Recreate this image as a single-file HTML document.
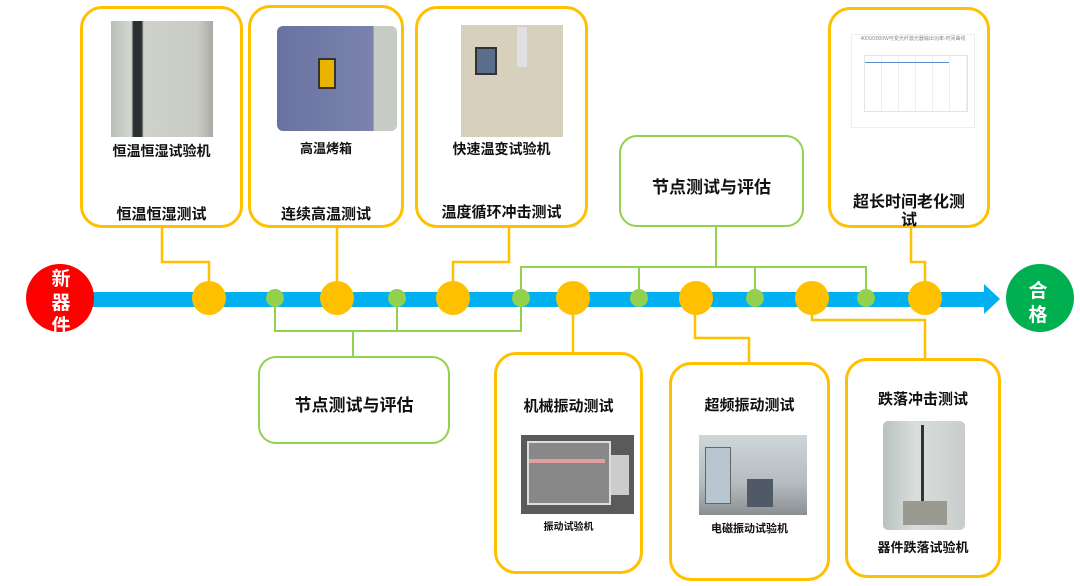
<!DOCTYPE html>
<html><head><meta charset="utf-8"><style>
body{margin:0;width:1080px;height:586px;background:#fff;position:relative;overflow:hidden;font-family:"Liberation Sans","Noto Sans CJK SC",sans-serif;}
.b{position:absolute;box-sizing:border-box;border:3px solid #ffc000;border-radius:22px;background:#fff;}
.g{position:absolute;box-sizing:border-box;border:2px solid #92d050;border-radius:18px;background:#fff;}
.t{position:absolute;left:0;right:0;text-align:center;font-weight:bold;color:#111;}
.im{position:absolute;}
svg{position:absolute;left:0;top:0;}
</style></head><body>
<svg width="1080" height="586">
<g fill="none" stroke="#ffc000" stroke-width="2.5">
<polyline points="162,227 162,262 209,262 209,298"/>
<polyline points="337,227 337,298"/>
<polyline points="509,227 509,262 453,262 453,298"/>
<polyline points="911,225 911,262 925,262 925,298"/>
<polyline points="573,298 573,352"/>
<polyline points="695,298 695,338 749,338 749,362"/>
<polyline points="812,298 812,320 925,320 925,358"/>
</g>
<g fill="none" stroke="#92d050" stroke-width="2">
<polyline points="716,227 716,267"/>
<polyline points="521,298 521,267 866,267 866,298"/>
<polyline points="639,267 639,298"/><polyline points="755,267 755,298"/>
<polyline points="275,298 275,331 521,331 521,298"/>
<polyline points="397,298 397,331"/><polyline points="353,331 353,357"/>
</g>
<rect x="90" y="292" width="895" height="15" fill="#00b0f0"/>
<polygon points="984,284 1000,299 984,314" fill="#00b0f0"/>
<circle cx="60" cy="298" r="34" fill="#ff0000"/>
<circle cx="1040" cy="298" r="34" fill="#00b050"/>
<g fill="#ffc000"><circle cx="209" cy="298" r="17"/><circle cx="337" cy="298" r="17"/><circle cx="453" cy="298" r="17"/><circle cx="573" cy="298" r="17"/><circle cx="696" cy="298" r="17"/><circle cx="812" cy="298" r="17"/><circle cx="925" cy="298" r="17"/></g>
<g fill="#92d050"><circle cx="275" cy="298" r="9"/><circle cx="397" cy="298" r="9"/><circle cx="521" cy="298" r="9"/><circle cx="639" cy="298" r="9"/><circle cx="755" cy="298" r="9"/><circle cx="866" cy="298" r="9"/></g>
<g font-family="Liberation Sans,Noto Sans CJK SC,sans-serif" font-weight="bold" font-size="19" fill="#fff" text-anchor="middle">
<text x="61" y="285">新</text><text x="61" y="309">器</text><text x="61" y="332">件</text>
<text x="1038" y="297">合</text><text x="1038" y="321">格</text>
</g>
</svg>

<div class="b" style="left:80px;top:6px;width:163px;height:222px">
<div class="im" style="left:28px;top:12px;width:102px;height:116px;background:linear-gradient(90deg,#b9bdb8 0%,#d6d9d2 20%,#2c2f30 22%,#2c2f30 30%,#cfd2cb 32%,#c9ccc4 85%,#a9aca6 100%)"></div>
<div class="t" style="top:132px;font-size:14px">恒温恒湿试验机</div>
<div class="t" style="top:194px;font-size:15px">恒温恒湿测试</div></div>
<div class="b" style="left:248px;top:5px;width:156px;height:223px">
<div class="im" style="left:26px;top:18px;width:120px;height:105px;border-radius:6px;background:linear-gradient(90deg,#6a72a0 0%,#7a82ad 80%,#c8cbc4 81%,#c8cbc4 100%)"><div style="position:absolute;left:41px;top:32px;width:14px;height:27px;background:#e8b400;border:2px solid #333"></div></div>
<div class="t" style="top:130px;font-size:13px">高温烤箱</div>
<div class="t" style="top:195px;font-size:15px">连续高温测试</div></div>
<div class="b" style="left:415px;top:6px;width:173px;height:222px">
<div class="im" style="left:43px;top:16px;width:102px;height:112px;background:#d6d0bc"><div style="position:absolute;left:14px;top:22px;width:18px;height:24px;background:#5a6e8a;border:2px solid #333"></div><div style="position:absolute;left:56px;top:2px;width:10px;height:40px;background:#e0e0e0"></div></div>
<div class="t" style="top:130px;font-size:14px">快速温变试验机</div>
<div class="t" style="top:192px;font-size:15px">温度循环冲击测试</div></div>
<div class="g" style="left:619px;top:135px;width:185px;height:92px">
<div class="t" style="top:36px;font-size:17px">节点测试与评估</div></div>
<div class="b" style="left:828px;top:7px;width:162px;height:221px">
<div class="im" style="left:20px;top:24px;width:122px;height:92px;border:1px solid #eee;font-size:5px;color:#888;text-align:center">4000/2000W可变光纤激光器输出功率-时间曲线
<div style="position:absolute;left:12px;top:20px;width:102px;height:55px;border:1px solid #e4e4e4;background:repeating-linear-gradient(90deg,transparent 0 16px,#eee 16px 17px)"><div style="position:absolute;left:0;right:18px;top:6px;height:1px;background:#5b8fd0"></div></div></div>
<div class="t" style="top:184px;font-size:16px;line-height:18px;left:22px;right:22px">超长时间老化测试</div></div>

<div class="g" style="left:258px;top:356px;width:192px;height:88px">
<div class="t" style="top:33px;font-size:17px">节点测试与评估</div></div>
<div class="b" style="left:494px;top:352px;width:149px;height:222px">
<div class="t" style="top:40px;font-size:15px">机械振动测试</div>
<div class="im" style="left:24px;top:80px;width:113px;height:79px;background:#5a5a5a"><div style="position:absolute;left:6px;top:6px;width:80px;height:60px;border:2px solid #ddd;background:#888"></div><div style="position:absolute;left:8px;top:24px;width:76px;height:4px;background:#e0a0a0"></div><div style="position:absolute;left:90px;top:20px;width:18px;height:40px;background:#ccc"></div></div>
<div class="t" style="top:163px;font-size:10px">振动试验机</div></div>
<div class="b" style="left:669px;top:362px;width:161px;height:219px">
<div class="t" style="top:29px;font-size:15px">超频振动测试</div>
<div class="im" style="left:27px;top:70px;width:108px;height:80px;background:linear-gradient(180deg,#cfd6da 0%,#b5bcc0 60%,#8a8f92 100%)"><div style="position:absolute;left:6px;top:12px;width:24px;height:55px;background:#b7c5d0;border:1px solid #666"></div><div style="position:absolute;left:48px;top:44px;width:26px;height:28px;background:#505a66"></div></div>
<div class="t" style="top:155px;font-size:11px">电磁振动试验机</div></div>
<div class="b" style="left:845px;top:358px;width:156px;height:220px">
<div class="t" style="top:27px;font-size:15px">跌落冲击测试</div>
<div class="im" style="left:35px;top:60px;width:82px;height:109px;border-radius:5px;background:linear-gradient(90deg,#b9c2c0 0%,#d9dedd 40%,#c8cdcc 100%)"><div style="position:absolute;left:38px;top:4px;width:3px;height:80px;background:#333"></div><div style="position:absolute;left:20px;top:80px;width:44px;height:24px;background:#9a9a90"></div></div>
<div class="t" style="top:176px;font-size:13px">器件跌落试验机</div></div>
</body></html>
